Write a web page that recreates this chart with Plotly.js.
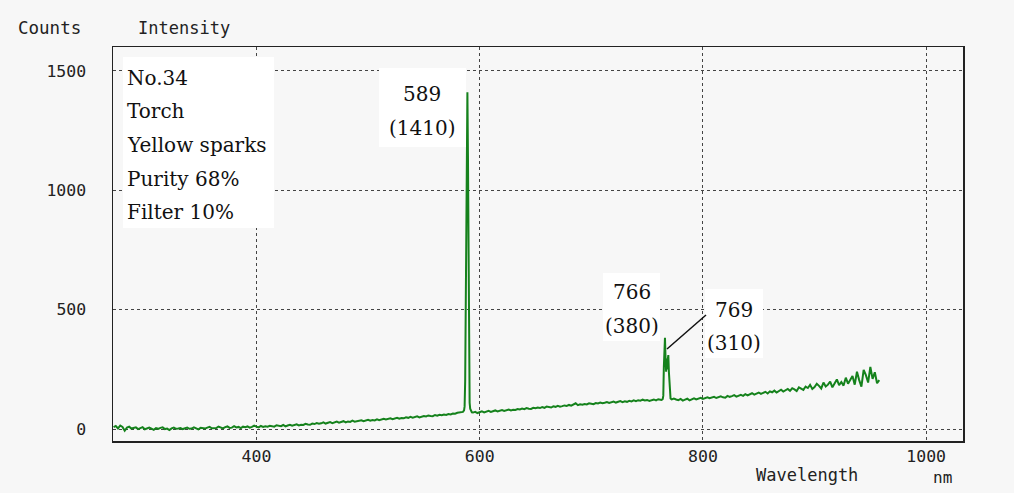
<!DOCTYPE html>
<html>
<head>
<meta charset="utf-8">
<script src="https://cdn.plot.ly/plotly-3.0.1.min.js"></script>
<style>
html,body{margin:0;padding:0;background:#f7f7f7;}
#chart{width:1014px;height:493px;}
</style>
</head>
<body>
<div id="chart"></div>
<script>
// ---- Data ----
// Baseline 272..584 nm (step 2)
const wlA = [272,274,276,278,280,282,284,286,288,290,292,294,296,298,300,302,304,306,308,310,
312,314,316,318,320,322,324,326,328,330,332,334,336,338,340,342,344,346,348,350,
352,354,356,358,360,362,364,366,368,370,372,374,376,378,380,382,384,386,388,390,
392,394,396,398,400,402,404,406,408,410,412,414,416,418,420,422,424,426,428,430,
432,434,436,438,440,442,444,446,448,450,452,454,456,458,460,462,464,466,468,470,
472,474,476,478,480,482,484,486,488,490,492,494,496,498,500,502,504,506,508,510,
512,514,516,518,520,522,524,526,528,530,532,534,536,538,540,542,544,546,548,550,
552,554,556,558,560,562,564,566,568,570,572,574,576,578,580,582,584];
const cntA = [8,13,3,15,9,-7,6,10,2,4, 7,0,5,8,-1,3,6,2,-3,4,
1,5,7,0,2,-4,3,6,1,2, 4,0,3,6,1,2,7,3,-1,5,
4,2,6,9,3,5,4,10,7,3, 8,11,5,6,12,7,9,4,10,8,
11,6,9,14,10,7,13,9,12,10, 14,11,10,16,13,12,17,11,15,18,
14,16,20,15,18,17,22,19,18,23, 21,25,22,24,28,23,26,29,25,27,
31,27,29,33,28,32,30,35,31,33, 34,37,33,36,39,35,38,36,41,37,
39,43,40,42,45,41,44,47,43,46, 45,49,47,51,48,50,53,49,52,55,
53,57,55,54,59,56,60,58,61,59, 63,61,65,64,68,70,74];
// Sodium peak region (589 nm)
const wlB = [585,586,586.5,587,587.5,588,588.5,589,589.5,590,590.5,591,591.5,592,593];
const cntB = [72,78,95,200,435,745,1140,1410,1145,570,205,110,85,76,70];
// Baseline 594..762 nm
const wlC = [594,596,598,600,602,604,606,608,610,612,614,616,618,620,622,624,626,628,630,632,
634,636,638,640,642,644,646,648,650,652,654,656,658,660,662,664,666,668,670,672,
674,676,678,680,682,684,686,688,690,692,694,696,698,700,702,704,706,708,710,712,
714,716,718,720,722,724,726,728,730,732,734,736,738,740,742,744,746,748,750,752,
754,756,758,760,762];
const cntC = [69,72,67,71,74,70,73,76,72,75, 78,74,77,80,76,79,82,78,81,80,
84,82,86,83,88,85,84,89,87,90, 88,92,89,94,91,90,95,93,97,94,
96,99,97,101,98,103,108,100,104,102, 105,103,108,106,104,109,107,111,108,110,
113,109,112,115,111,114,117,113,116,114, 118,116,120,117,121,119,123,120,122,118,
121,124,120,125,123];
// Potassium peaks region (766 / 769 nm)
const wlD = [763,764,764.5,765,765.5,766,766.5,767,767.5,768,768.5,769,769.5,770,770.5,771,772];
const cntD = [122,126,140,260,330,382,300,240,295,250,290,310,240,190,140,128,124];
// Baseline 774..958 nm
const wlE = [774,776,778,780,782,784,786,788,790,792,794,796,798,800,802,804,806,808,810,812,
814,816,818,820,822,824,826,828,830,832,834,836,838,840,842,844,846,848,850,852,
854,856,858,860,862,864,866,868,870,872,874,876,878,880,882,884,886,888,890,892,
894,896,898,900,902,904,906,908,910,912,914,916,918,920,922,924,926,928,930,932,
934,936,938,940,942,944,946,948,950,952,954,956,958];
const cntE = [128,124,121,126,119,123,127,120,125,129, 124,127,131,126,128,133,129,131,135,130,
132,137,133,131,139,135,138,142,136,140, 143,139,146,141,145,150,144,148,153,147,
151,156,149,158,154,161,153,159,165,157, 163,168,160,171,166,159,175,170,164,178,
172,185,168,176,190,181,170,195,178,186, 199,175,192,208,184,197,182,215,190,204,
222,186,240,205,178,248,226,195,260,210, 238,192,205];

const wavelength = [].concat(wlA, wlB, wlC, wlD, wlE);
const counts = [].concat(cntA, cntB, cntC, cntD, cntE);

const infoLines = ["No.34", "Torch", "Yellow sparks", "Purity 68%", "Filter 10%"];
const peakLabels = [["589", "(1410)"], ["766", "(380)"], ["769", "(310)"]];
const xTicks = [400, 600, 800, 1000];
const yTicks = [0, 500, 1000, 1500];

// ---- helpers: pixel -> paper for the 113..963 x 47..441 plot box ----
const PL = 113, PR = 963, PT = 47, PB = 441;
const px = x => (x - PL) / (PR - PL);
const py = y => (PB - y) / (PB - PT);

const monoFont = {family: "DejaVu Sans Mono", size: 16.5, color: "#222"};
const serifFont = {family: "DejaVu Serif", size: 20, color: "#111"};

const annotations = [];
const shapes = [];

// info box
shapes.push({type: "rect", xref: "paper", yref: "paper", x0: px(123), x1: px(274), y0: py(228), y1: py(57),
  fillcolor: "#ffffff", line: {width: 0}, layer: "above"});
const infoY = [78, 111.5, 145, 178.5, 212];
infoLines.forEach((t, i) => annotations.push({text: t, xref: "paper", yref: "paper", x: px(125), y: py(infoY[i]),
  xanchor: "left", yanchor: "middle", showarrow: false, font: serifFont}));

// peak label boxes
const boxes = [
  {x0: 379, x1: 466, y0: 68, y1: 147, cx: 422, ys: [94, 128]},
  {x0: 603, x1: 660, y0: 273, y1: 341, cx: 632, ys: [292, 326]},
  {x0: 705, x1: 763, y0: 289, y1: 358, cx: 734, ys: [310, 343]}
];
boxes.forEach((b, i) => {
  shapes.push({type: "rect", xref: "paper", yref: "paper", x0: px(b.x0), x1: px(b.x1), y0: py(b.y1), y1: py(b.y0),
    fillcolor: "#ffffff", line: {width: 0}, layer: "above"});
  peakLabels[i].forEach((t, j) => annotations.push({text: t, xref: "paper", yref: "paper", x: px(b.cx), y: py(b.ys[j]),
    xanchor: "center", yanchor: "middle", showarrow: false, font: serifFont}));
});
// leader line for 769
shapes.push({type: "line", xref: "paper", yref: "paper", x0: px(667), y0: py(349), x1: px(706), y1: py(315),
  line: {color: "#111", width: 1.5}, layer: "above"});

// axis text labels
const lblFont = Object.assign({}, monoFont, {size: 17});
annotations.push({text: "Counts", xref: "paper", yref: "paper", x: px(16), y: py(28), xanchor: "left", yanchor: "middle", showarrow: false, font: Object.assign({}, monoFont, {size: 17.5})});
annotations.push({text: "Intensity", xref: "paper", yref: "paper", x: px(136), y: py(28), xanchor: "left", yanchor: "middle", showarrow: false, font: lblFont});
annotations.push({text: "Wavelength", xref: "paper", yref: "paper", x: px(754), y: py(475), xanchor: "left", yanchor: "middle", showarrow: false, font: lblFont});
annotations.push({text: "nm", xref: "paper", yref: "paper", x: px(931), y: py(477), xanchor: "left", yanchor: "middle", showarrow: false, font: Object.assign({}, monoFont, {size: 16})});

const trace = {
  x: wavelength, y: counts, type: "scatter", mode: "lines",
  line: {color: "#15821c", width: 2}, hoverinfo: "skip"
};

const layout = {
  width: 1014, height: 493,
  margin: {l: PL, r: 1014 - PR, t: PT, b: 493 - PB},
  paper_bgcolor: "#f7f7f7", plot_bgcolor: "#f7f7f7",
  showlegend: false,
  xaxis: {range: [271.5, 1033], tickvals: xTicks, ticktext: xTicks.map(String),
    showgrid: true, gridcolor: "#444", griddash: "dot", gridwidth: 1, zeroline: false,
    showline: true, mirror: true, linecolor: "#222", linewidth: 1.5, ticks: "",
    tickfont: monoFont, ticklabelstandoff: 0},
  yaxis: {range: [-50, 1600], tickvals: yTicks, ticktext: yTicks.map(String),
    showgrid: true, gridcolor: "#444", griddash: "dot", gridwidth: 1, zeroline: false,
    showline: true, mirror: true, linecolor: "#222", linewidth: 1.5, ticks: "",
    tickfont: monoFont, ticklabelstandoff: 22},
  annotations: annotations,
  shapes: shapes
};

Plotly.newPlot("chart", [trace], layout, {staticPlot: true, displayModeBar: false});
</script>
</body>
</html>
